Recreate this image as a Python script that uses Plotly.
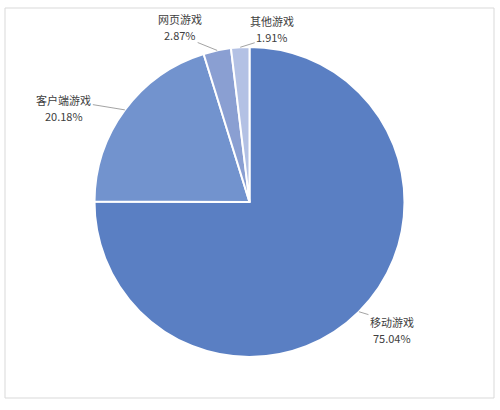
import math
import plotly.graph_objects as go

labels = ['移动游戏', '客户端游戏', '网页游戏', '其他游戏']
values = [75.04, 20.18, 2.87, 1.91]
colors = ['#5a7fc3', '#7293ce', '#8a9fd2', '#b3c1e4']
# pixel offset of each label (name line) from the slice edge
label_offsets = [(33, 10), (-61, -10), (-37, -31), (32, -26)]
# which text line the leader line attaches to
leader_on_pct = [False, False, True, True]

W, H = 500, 410
cx, cy, r = 249.5, 202, 155  # pie centre / radius in pixels (from top-left)

fig = go.Figure()

fig.add_trace(go.Pie(
    labels=labels,
    values=values,
    sort=False,
    direction='clockwise',
    rotation=0,
    textinfo='none',
    hoverinfo='label+percent',
    marker=dict(colors=colors, line=dict(color='#ffffff', width=2)),
    domain=dict(x=[(cx - r) / W, (cx + r) / W], y=[(H - cy - r) / H, (H - cy + r) / H]),
    showlegend=False,
))

label_font = dict(family='Noto Sans CJK SC', size=11, color='#404040')
line_col = '#8c8c8c'
clear = 'rgba(0,0,0,0)'

# labels with leader lines, anchored at the middle of each slice edge
total = sum(values)
cum = 0
for lab, val, (ox, oy), on_pct in zip(labels, values, label_offsets, leader_on_pct):
    mid = (cum + val / 2) / total * 2 * math.pi
    cum += val
    px = cx + r * math.sin(mid)
    py = cy - r * math.cos(mid)
    fig.add_annotation(
        x=px / W, y=1 - py / H, xref='paper', yref='paper',
        text=lab, showarrow=True, arrowhead=0, arrowwidth=0.8,
        arrowcolor=clear if on_pct else line_col, ax=ox, ay=oy,
        standoff=0, font=label_font,
    )
    fig.add_annotation(
        x=px / W, y=1 - py / H, xref='paper', yref='paper',
        text=f'{val:.2f}%', showarrow=True, arrowhead=0, arrowwidth=0.8,
        arrowcolor=line_col if on_pct else clear, ax=ox, ay=oy + 16,
        standoff=0, font=label_font,
    )

# outer chart frame
fig.add_shape(type='rect', xref='paper', yref='paper',
              x0=5 / W, x1=494 / W, y0=1 - 398 / H, y1=1 - 8 / H,
              line=dict(color='#d9d9d9', width=1))

fig.update_layout(
    width=W, height=H,
    margin=dict(l=0, r=0, t=0, b=0),
    paper_bgcolor='#ffffff',
    plot_bgcolor='#ffffff',
    font_family='Noto Sans CJK SC',
)

fig.write_html('out.html', config={'displayModeBar': False},
               post_script="document.body.style.margin='0px';")
